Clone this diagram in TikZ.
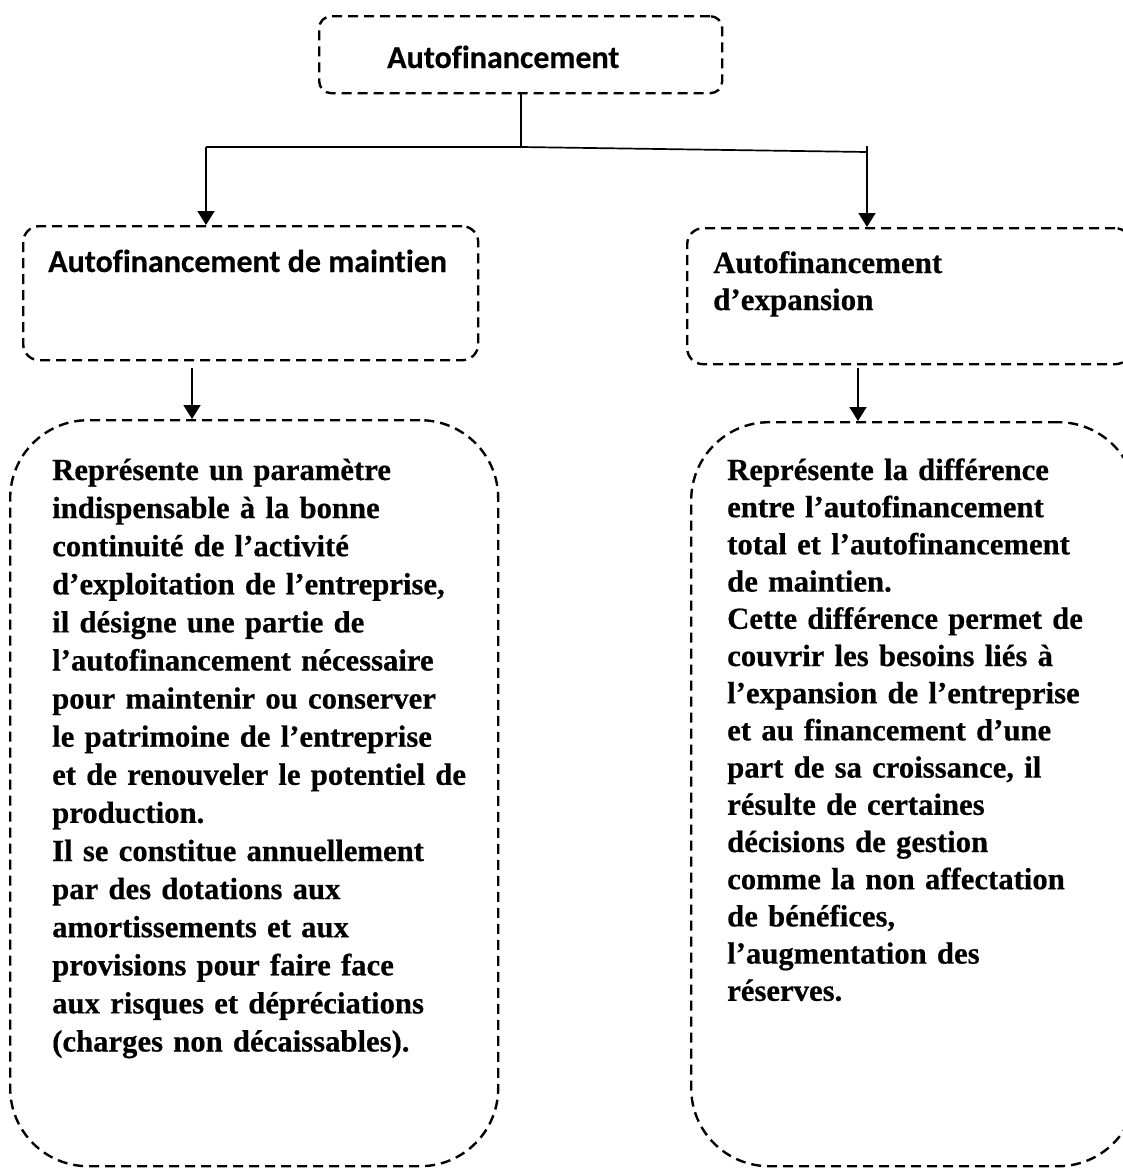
\documentclass[tikz,border=0pt]{standalone}
\usepackage{fontspec}
\setmainfont{Liberation Serif}[BoldFeatures={FakeBold=0.5}]
\newfontfamily\calfont[Ligatures={NoCommon}, BoldFeatures={FakeBold=0.3}]{Carlito}
\usetikzlibrary{arrows.meta}

\begin{document}
\begin{tikzpicture}[x=1pt, y=-1pt,
  dbox/.style={draw=black, line width=2.4pt, dash pattern=on 10pt off 6pt,
    rectangle, inner sep=0pt, anchor=north west},
  link/.style={draw=black, line width=1.7pt},
  arr/.style={link, -{Triangle[length=14pt, width=17pt]}},
  headsans/.style={inner sep=0pt, anchor=base west,
    font=\calfont\bfseries\fontsize{32}{38}\selectfont},
  bodytext/.style={inner sep=0pt, anchor=base west, align=left,
    text width=460pt,
    font=\bfseries\fontsize{30.7}{38.1}\selectfont},
]
\useasboundingbox (0,0) rectangle (1123,1170);

% boxes
\node[dbox, rounded corners=12pt, minimum width=403pt, minimum height=77pt] (top) at (318,15) {};
\node[dbox, rounded corners=16pt, minimum width=455pt, minimum height=134pt] (mb) at (22,225) {};
\node[dbox, rounded corners=16pt, minimum width=444pt, minimum height=136pt] (eb) at (686,227) {};
\node[dbox, rounded corners=78pt, minimum width=488pt, minimum height=746pt] (md) at (9,419) {};
\node[dbox, rounded corners=78pt, minimum width=445pt, minimum height=744pt] (ed) at (690,421) {};

% headings
\node[headsans] (toptxt) at (387,68) {Autofinancement};
\node[headsans] (mbtxt) at (48,272) {Autofinancement de maintien};
\node[bodytext, font=\bfseries\fontsize{31}{37}\selectfont, text width=400pt] (ebtxt) at (713,273)
  {Autofinancement\\d’expansion};

% descriptions
\node[bodytext] (mdtxt) at (52,480) {Représente un paramètre\\
indispensable à la bonne\\
continuité de l’activité\\
d’exploitation de l’entreprise,\\
il désigne une partie de\\
l’autofinancement nécessaire\\
pour maintenir ou conserver\\
le patrimoine de l’entreprise\\
et de renouveler le potentiel de\\
production.\\
Il se constitue annuellement\\
par des dotations aux\\
amortissements et aux\\
provisions pour faire face\\
aux risques et dépréciations\\
(charges non décaissables).};

\node[bodytext, text width=390pt, font=\bfseries\fontsize{30.7}{37.2}\selectfont] (edtxt) at (727,480) {Représente la différence\\
entre l’autofinancement\\
total et l’autofinancement\\
de maintien.\\
Cette différence permet de\\
couvrir les besoins liés à\\
l’expansion de l’entreprise\\
et au financement d’une\\
part de sa croissance, il\\
résulte de certaines\\
décisions de gestion\\
comme la non affectation\\
de bénéfices,\\
l’augmentation des\\
réserves.};

% connectors
\coordinate (jn) at (521,147);
\coordinate (jl) at (206,147);
\coordinate (jr) at (867,152);
\coordinate (jrt) at (867,146);
\coordinate (mbout) at (192,368);
\coordinate (ebout) at (858,368);

\draw[link] (top.south -| jn) -- (jn);
\draw[link] (jl) -- (jn) -- (jr);
\draw[arr] (jl) -- (jl |- mb.north);
\draw[arr] (jrt) -- (jrt |- eb.north);
\draw[arr] (mbout) -- (mbout |- md.north);
\draw[arr] (ebout) -- (ebout |- ed.north);
\end{tikzpicture}
\end{document}
